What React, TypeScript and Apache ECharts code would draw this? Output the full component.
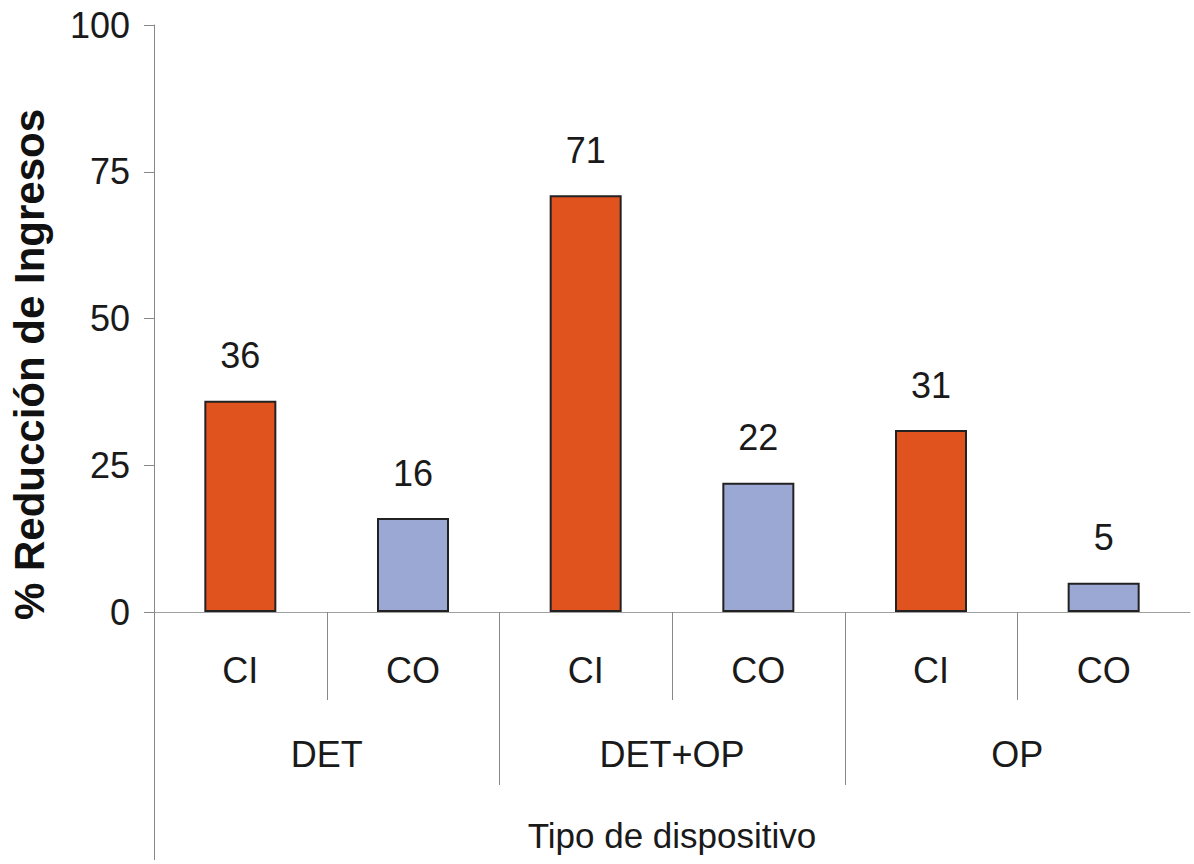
import React, { useEffect, useRef } from "react";
import * as echarts from "echarts";

const subCategories = ["CI", "CO", "CI", "CO", "CI", "CO"];
const groups = ["DET", "DET+OP", "OP"];
const values = [36, 16, 71, 22, 31, 5];
const yTicks = [0, 25, 50, 75, 100];

const FONT = "'Liberation Sans', Arial, sans-serif";
const CI_COLOR = "#E0531F";
const CO_COLOR = "#9CA8D4";

export default function App() {
  const ref = useRef<HTMLDivElement>(null);
  useEffect(() => {
    if (!ref.current) return;
    const chart = echarts.init(ref.current, null, { renderer: "svg" });
    const option: any = {
      animation: false,
      backgroundColor: "#ffffff",
      grid: { left: 153, right: 4, top: 25, bottom: 252, containLabel: false },
      xAxis: [
        {
          type: "category",
          data: subCategories,
          position: "bottom",
          axisLine: { show: true, lineStyle: { color: "#a0a0a0", width: 1 } },
          axisTick: { show: false },
          axisLabel: { margin: 40, fontSize: 36, color: "#1a1a1a", fontFamily: FONT, interval: 0 },
          splitLine: { show: false },
        },
        {
          type: "category",
          data: groups,
          position: "bottom",
          axisLine: { show: false },
          axisTick: { show: false },
          axisLabel: { margin: 124, fontSize: 36, color: "#1a1a1a", fontFamily: FONT, interval: 0 },
          splitLine: { show: false },
          name: "Tipo de dispositivo",
          nameLocation: "middle",
          nameGap: 206,
          nameTextStyle: { fontSize: 35, color: "#1a1a1a", fontFamily: FONT },
        },
      ],
      yAxis: {
        type: "value",
        min: yTicks[0],
        max: yTicks[yTicks.length - 1],
        interval: 25,
        axisLine: { show: true, lineStyle: { color: "#888888", width: 1 } },
        axisTick: { show: true, length: 10, lineStyle: { color: "#888888" } },
        axisLabel: { margin: 24, fontSize: 36, color: "#1a1a1a", fontFamily: FONT },
        splitLine: { show: false },
        name: "% Reducción de Ingresos",
        nameLocation: "middle",
        nameGap: 104,
        nameTextStyle: {
          fontSize: 42,
          fontWeight: "bold",
          color: "#111111",
          fontFamily: FONT,
          padding: [0, 92, 0, 0],
        },
      },
      series: [
        {
          type: "custom",
          xAxisIndex: 0,
          silent: true,
          z: 1,
          clip: false,
          data: subCategories.map((_, i) => [i, 0]),
          renderItem: (params: any, api: any) => {
            const idx = api.value(0);
            const c = api.coord([idx, 0]);
            const w = api.size([1, 0])[0];
            const x = Math.round(c[0] - w / 2) + 0.5;
            const len = idx === 0 ? 248 : idx % 2 === 0 ? 173 : 88;
            return {
              type: "line",
              shape: { x1: x, y1: c[1], x2: x, y2: c[1] + len },
              style: { stroke: "#888888", lineWidth: 1 },
            };
          },
        },
        {
          type: "bar",
          xAxisIndex: 0,
          barWidth: 72,
          z: 3,
          data: values.map((v, i) => ({
            value: v,
            itemStyle: { color: subCategories[i] === "CI" ? CI_COLOR : CO_COLOR },
          })),
          itemStyle: { borderColor: "#222222", borderWidth: 2 },
          label: {
            show: true,
            position: "top",
            distance: 27,
            fontSize: 36,
            color: "#1a1a1a",
            fontFamily: FONT,
          },
        },
      ],
    };
    chart.setOption(option);
    return () => chart.dispose();
  }, []);
  return (
    <div
      ref={ref}
      style={{ position: "absolute", left: 0, top: 0, width: 1194, height: 864 }}
    />
  );
}
